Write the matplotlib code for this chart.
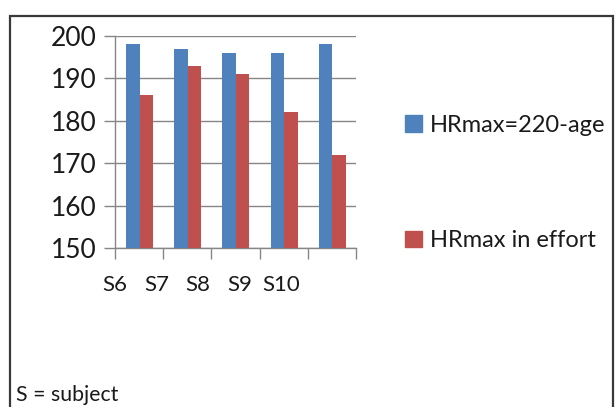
import matplotlib.pyplot as plt
import numpy as np
from matplotlib.patches import Rectangle, Patch

subjects = ["S6", "S7", "S8", "S9", "S10"]
hr_formula = [198, 197, 196, 196, 198]
hr_effort = [186, 193, 191, 182, 172]
series_labels = ["HRmax=220-age", "HRmax in effort"]

blue = "#4F81BD"
red = "#C0504D"
grid_col = "#868686"

plt.rcParams["font.family"] = ["Lato", "DejaVu Sans"]

fig = plt.figure(figsize=(6.15, 4.07), dpi=100)
ax = fig.add_axes([115 / 615, 1 - 248 / 407, 241 / 615, 212 / 407])

x = np.arange(len(subjects))
w = 0.28
ax.bar(x - 0.13, hr_formula, width=w, color=blue, zorder=3)
ax.bar(x + 0.15, hr_effort, width=w, color=red, zorder=3)

ax.set_xlim(-0.5, len(subjects) - 0.5)
ax.set_ylim(150, 200)
ax.set_yticks(np.arange(150, 201, 10))
ax.yaxis.grid(True, color=grid_col, lw=1, zorder=0)
ax.tick_params(axis="y", length=8, width=1, color=grid_col, labelsize=19,
               labelcolor="#1a1a1a", pad=5)

# category boundaries carry the tick marks, labels are drawn separately
ax.set_xticks(np.arange(len(subjects) + 1) - 0.5)
ax.set_xticklabels([])
ax.tick_params(axis="x", length=8, width=1, color=grid_col)
label_x = np.arange(len(subjects)) * 0.86 - 0.5
for lx, name in zip(label_x, subjects):
    ax.text(lx, -0.175, name, transform=ax.get_xaxis_transform(),
            ha="center", va="center", fontsize=16, color="#1a1a1a")

for side in ["top", "right"]:
    ax.spines[side].set_visible(False)
for side in ["left", "bottom"]:
    ax.spines[side].set_color(grid_col)
    ax.spines[side].set_linewidth(1)

handles = [Patch(color=blue), Patch(color=red)]
fig.legend(handles, series_labels, loc="center left",
           bbox_to_anchor=(405 / 615, 1 - 183 / 407), frameon=False,
           fontsize=17, handlelength=0.7, handleheight=0.7, handletextpad=0.35,
           labelspacing=4.0, borderpad=0, borderaxespad=0,
           labelcolor="#1a1a1a")

fig.text(16 / 615, 1 - 395 / 407, "S = subject", fontsize=15.3,
         ha="left", va="center", color="#1a1a1a")

fig.add_artist(Rectangle((10 / 615, -0.05), 603 / 615, 1 - 16 / 407 + 0.05,
                         transform=fig.transFigure, fill=False,
                         ec="#3a3a3a", lw=1.6, clip_on=False))

fig.savefig("out.png", dpi=100)
